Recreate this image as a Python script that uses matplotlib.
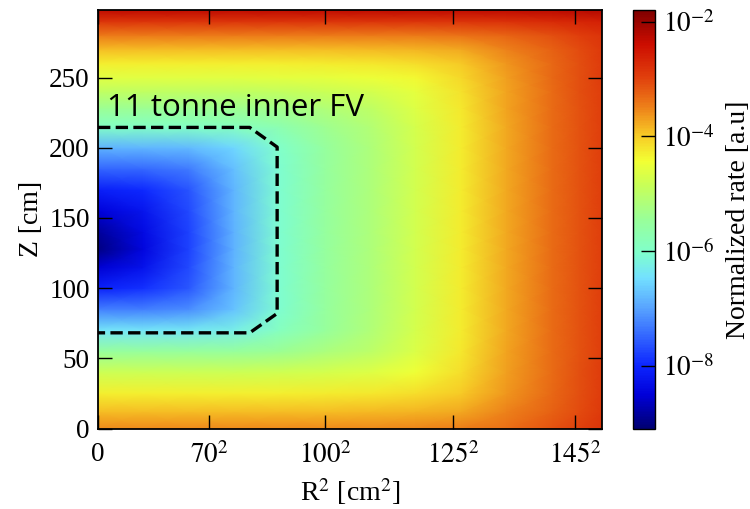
import numpy as np
import matplotlib
matplotlib.use("Agg")
import matplotlib.pyplot as plt
from matplotlib.colors import LogNorm, LinearSegmentedColormap

plt.rcParams['font.family'] = 'serif'
plt.rcParams['font.serif'] = ['Liberation Serif', 'DejaVu Serif']
plt.rcParams['mathtext.fontset'] = 'stix'

# ---- data ----
# grid columns: R^2 [cm^2]
r2_cols = [0, 2000, 4000, 6000, 8000, 10000, 12000, 14000, 16000, 18000, 20000, 21200, 22201]
# grid rows: Z [cm]
z_rows = [0, 12, 25, 40, 55, 70, 85, 100, 115, 128, 140, 155, 170, 185,
          200, 215, 228, 240, 250, 260, 270, 280, 290, 298]
# log10 of normalized rate, one row per Z value
log10_rate = [
    [-3.55, -3.55, -3.55, -3.55, -3.55, -3.55, -3.54, -3.52, -3.47, -3.34, -3.13, -2.98, -2.85],
    [-3.90, -3.90, -3.90, -3.90, -3.90, -3.89, -3.88, -3.84, -3.74, -3.51, -3.23, -3.06, -2.91],
    [-4.30, -4.30, -4.30, -4.30, -4.29, -4.28, -4.25, -4.16, -3.98, -3.64, -3.29, -3.09, -2.93],
    [-4.80, -4.80, -4.80, -4.80, -4.78, -4.73, -4.64, -4.47, -4.16, -3.71, -3.32, -3.11, -2.94],
    [-5.50, -5.50, -5.50, -5.48, -5.40, -5.21, -5.01, -4.67, -4.25, -3.73, -3.33, -3.12, -2.95],
    [-6.40, -6.40, -6.38, -6.27, -5.90, -5.48, -5.16, -4.73, -4.27, -3.74, -3.33, -3.12, -2.95],
    [-7.30, -7.28, -7.18, -6.72, -6.05, -5.52, -5.18, -4.74, -4.27, -3.74, -3.33, -3.12, -2.95],
    [-8.05, -7.93, -7.61, -6.82, -6.06, -5.53, -5.18, -4.74, -4.27, -3.74, -3.33, -3.12, -2.95],
    [-8.55, -8.25, -7.73, -6.84, -6.07, -5.53, -5.18, -4.74, -4.27, -3.74, -3.33, -3.12, -2.95],
    [-9.00, -8.42, -7.77, -6.85, -6.07, -5.53, -5.18, -4.74, -4.27, -3.74, -3.33, -3.12, -2.95],
    [-8.85, -8.37, -7.77, -6.85, -6.07, -5.53, -5.18, -4.74, -4.27, -3.74, -3.33, -3.12, -2.95],
    [-8.50, -8.22, -7.72, -6.84, -6.07, -5.53, -5.18, -4.74, -4.27, -3.74, -3.33, -3.12, -2.95],
    [-8.10, -7.97, -7.62, -6.83, -6.06, -5.53, -5.18, -4.74, -4.27, -3.74, -3.33, -3.12, -2.95],
    [-7.50, -7.47, -7.32, -6.76, -6.05, -5.52, -5.18, -4.74, -4.27, -3.74, -3.33, -3.12, -2.95],
    [-6.85, -6.84, -6.81, -6.55, -6.00, -5.51, -5.17, -4.74, -4.27, -3.74, -3.33, -3.12, -2.95],
    [-5.95, -5.95, -5.94, -5.90, -5.71, -5.38, -5.11, -4.72, -4.26, -3.74, -3.33, -3.12, -2.95],
    [-5.40, -5.40, -5.40, -5.39, -5.32, -5.16, -4.98, -4.65, -4.24, -3.73, -3.33, -3.12, -2.95],
    [-4.95, -4.95, -4.95, -4.95, -4.92, -4.85, -4.75, -4.54, -4.19, -3.72, -3.32, -3.11, -2.95],
    [-4.60, -4.60, -4.60, -4.60, -4.59, -4.55, -4.50, -4.37, -4.10, -3.69, -3.31, -3.11, -2.94],
    [-4.30, -4.30, -4.30, -4.30, -4.29, -4.28, -4.25, -4.16, -3.98, -3.64, -3.29, -3.09, -2.93],
    [-3.90, -3.90, -3.90, -3.90, -3.90, -3.89, -3.88, -3.84, -3.74, -3.51, -3.23, -3.06, -2.91],
    [-3.45, -3.45, -3.45, -3.45, -3.45, -3.45, -3.44, -3.43, -3.39, -3.27, -3.09, -2.95, -2.83],
    [-2.85, -2.85, -2.85, -2.85, -2.85, -2.85, -2.85, -2.84, -2.83, -2.80, -2.73, -2.66, -2.60],
    [-2.30, -2.30, -2.30, -2.30, -2.30, -2.30, -2.30, -2.30, -2.30, -2.29, -2.26, -2.24, -2.21],
]

# fiducial volume outline (R^2 [cm^2], Z [cm])
fv_r2 = [0, 6680, 7890, 7890, 6680, 0]
fv_z = [214.5, 214.5, 200.5, 82, 68.2, 68.2]
fv_label = "11 tonne inner FV"

xtick_vals = [0, 4900, 10000, 15625, 21025]
xtick_labels = ["0", r"$70^2$", r"$100^2$", r"$125^2$", r"$145^2$"]
ytick_vals = [0, 50, 100, 150, 200, 250]
cbar_ticks = [1e-2, 1e-4, 1e-6, 1e-8]
cbar_labels = [r"$10^{-2}$", r"$10^{-4}$", r"$10^{-6}$", r"$10^{-8}$"]

# colormap as seen in the reference colour bar (a softened jet)
cmap_stops = [
    (0.00, (0.00, 0.00, 0.45)),
    (0.08, (0.00, 0.00, 0.85)),
    (0.15, (0.05, 0.15, 1.00)),
    (0.22, (0.20, 0.40, 1.00)),
    (0.29, (0.35, 0.65, 1.00)),
    (0.36, (0.45, 0.88, 1.00)),
    (0.42, (0.50, 1.00, 0.80)),
    (0.50, (0.60, 1.00, 0.60)),
    (0.58, (0.78, 1.00, 0.35)),
    (0.64, (0.95, 1.00, 0.20)),
    (0.70, (0.97, 0.80, 0.15)),
    (0.77, (0.93, 0.50, 0.10)),
    (0.84, (0.88, 0.25, 0.05)),
    (0.92, (0.80, 0.05, 0.00)),
    (1.00, (0.50, 0.00, 0.00)),
]
cmap = LinearSegmentedColormap.from_list("soft_jet", cmap_stops)

# ---- figure ----
fig = plt.figure(figsize=(7.5, 5.09), dpi=100)
ax = fig.add_axes([0.1307, 0.158, 0.672, 0.822])
cax = fig.add_axes([0.844, 0.158, 0.029, 0.822])

rate = 10 ** np.array(log10_rate)
mesh = ax.pcolormesh(r2_cols, z_rows, rate, shading='gouraud', cmap=cmap,
                     norm=LogNorm(vmin=10 ** -9.1, vmax=10 ** -1.8))

ax.plot(fv_r2, fv_z, 'k--', lw=2.4)
ax.text(415, 222.6, fv_label, family=['Open Sans', 'DejaVu Sans'], fontsize=22.5,
        va='baseline', ha='left')

ax.set_xlim(0, 22201)
ax.set_ylim(0, 298)
ax.set_xticks(xtick_vals)
ax.set_xticklabels(xtick_labels)
ax.set_yticks(ytick_vals)
ax.tick_params(direction='in', length=10, width=1, top=True, right=True,
               labelsize=19.5)
ax.tick_params(axis='y', pad=6)
ax.tick_params(axis='x', pad=10)
for s in ax.spines.values():
    s.set_linewidth(1.3)
ax.set_xlabel(r"R$^2$ [cm$^2$]", fontsize=20, labelpad=5)
ax.set_ylabel("Z [cm]", fontsize=20, labelpad=4)

cb = fig.colorbar(mesh, cax=cax)
cb.set_ticks(cbar_ticks)
cb.set_ticklabels(cbar_labels)
cb.minorticks_off()
cax.tick_params(direction='in', length=10, width=1, labelsize=19.5, pad=6)
cb.outline.set_linewidth(1.0)
cb.set_label("Normalized rate [a.u]", fontsize=20, labelpad=8)

fig.savefig("out.png", dpi=100)
